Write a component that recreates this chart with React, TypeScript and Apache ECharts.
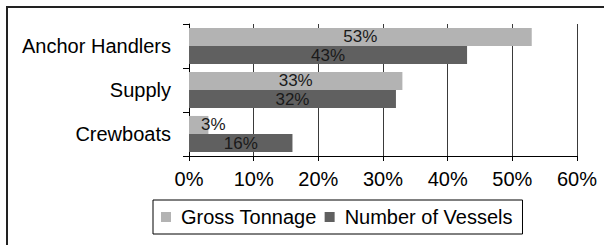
import React, { useEffect, useRef } from "react";
import * as echarts from "echarts";

const categories = ["Crewboats", "Supply", "Anchor Handlers"];
const grossTonnage = [3, 33, 53];
const numberOfVessels = [16, 32, 43];
const xTicks = [0, 10, 20, 30, 40, 50, 60];

const FONT = "Liberation Sans";

export default function App() {
  const ref = useRef<HTMLDivElement>(null);
  useEffect(() => {
    const chart = echarts.init(ref.current!, null, { renderer: "svg" });
    const barLabel = {
      show: true,
      position: "inside",
      formatter: "{c}%",
      fontSize: 17,
      color: "#1a1a1a",
      fontFamily: FONT,
    };
    const grossData = grossTonnage.map((v) =>
      v < 5 ? { value: v, label: { position: "insideLeft", offset: [7, 0] } } : v
    );
    chart.setOption({
      animation: false,
      textStyle: { fontFamily: FONT },
      grid: { left: 189, right: 27, top: 24, height: 132 },
      legend: {
        left: 153,
        top: 200,
        padding: [7, 10, 7, 8],
        borderColor: "#000",
        borderWidth: 1,
        itemWidth: 10,
        itemHeight: 10,
        itemGap: 8,
        icon: "rect",
        textStyle: {
          fontFamily: FONT,
          fontSize: 20,
          color: "#000",
          padding: [0, 0, 0, 5],
        },
        data: ["Gross Tonnage", "Number of Vessels"],
      },
      xAxis: {
        type: "value",
        min: 0,
        max: 60,
        interval: 10,
        axisLine: { show: true, lineStyle: { color: "#000" } },
        axisTick: { show: true, length: 5, lineStyle: { color: "#000" } },
        axisLabel: {
          formatter: (v: number) => (xTicks.includes(v) ? v + "%" : ""),
          fontSize: 20,
          color: "#000",
          margin: 13,
          fontFamily: FONT,
        },
        splitLine: { show: true, lineStyle: { color: "#3a3a3a", width: 1 } },
      },
      yAxis: {
        type: "category",
        data: categories,
        axisLine: { show: true, lineStyle: { color: "#000" } },
        axisTick: { show: true, length: 6, lineStyle: { color: "#000" } },
        axisLabel: { fontSize: 20, color: "#000", margin: 18, fontFamily: FONT },
      },
      series: [
        {
          name: "Gross Tonnage",
          type: "bar",
          data: grossData,
          itemStyle: { color: "#b3b3b3" },
          barGap: "0%",
          barCategoryGap: "18%",
          label: barLabel,
        },
        {
          name: "Number of Vessels",
          type: "bar",
          data: numberOfVessels,
          itemStyle: { color: "#606060" },
          barGap: "0%",
          barCategoryGap: "18%",
          label: barLabel,
        },
      ],
    });
    return () => chart.dispose();
  }, []);
  return (
    <div style={{ position: "absolute", left: 0, top: 0, width: 604, height: 245, overflow: "hidden" }}>
      <div
        style={{
          position: "absolute",
          left: 6,
          top: 6,
          width: 700,
          height: 400,
          borderTop: "2px solid #222",
          borderLeft: "2px solid #222",
        }}
      />
      <div ref={ref} style={{ position: "absolute", left: 0, top: 0, width: 604, height: 245 }} />
    </div>
  );
}
